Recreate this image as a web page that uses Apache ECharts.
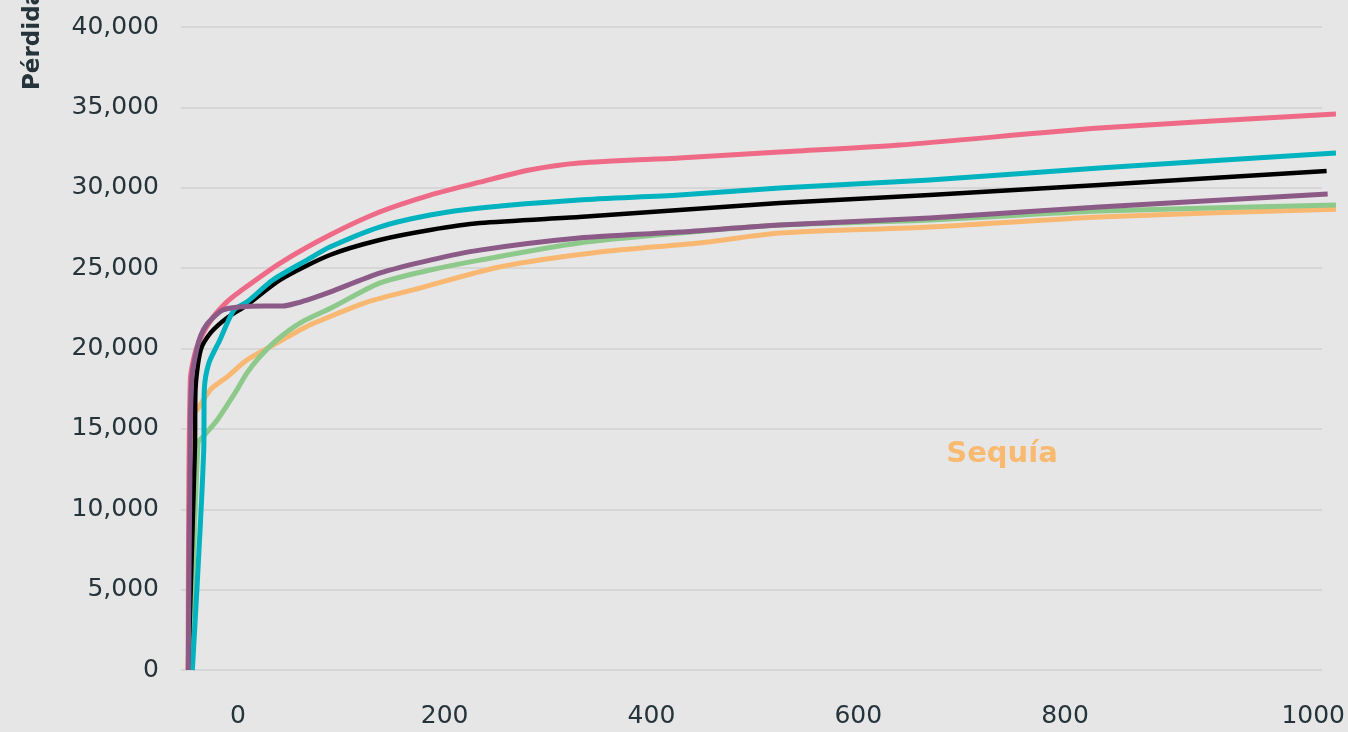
<!DOCTYPE html>
<html>
<head>
<meta charset="utf-8">
<script src="https://cdn.jsdelivr.net/npm/echarts@6/dist/echarts.min.js"></script>
<style>
html,body{margin:0;padding:0;background:#e6e6e6;}
#chart{width:1348px;height:732px;}
</style>
</head>
<body>
<div id="chart"></div>
<script>
// ---- data (x, loss) ----
const pinkData = [[-48,0],[-46,18040],[-39.6,20090],[-26,21770],[-10.6,22900],[2,23550],[41,25315],[89,27060],[137,28490],[186,29545],[234,30350],[282,31100],[330,31535],[427,31850],[524,32220],[640,32655],[833,33710],[1062,34585]];
const cyanData = [[-44,0],[-33,13700],[-32.5,17400],[-28,19100],[-17.4,20530],[-3.9,22390],[8.7,22890],[33.8,24260],[66.7,25500],[89,26310],[137,27555],[186,28300],[234,28740],[330,29235],[427,29545],[524,29980],[669,30480],[833,31225],[1062,32160]];
const blackData = [[-48,0],[-41.5,14000],[-41,17420],[-36,19900],[-26,21000],[-10.6,21900],[8.7,22700],[40.6,24260],[89,25815],[137,26750],[186,27370],[234,27800],[330,28180],[427,28610],[524,29050],[669,29545],[833,30170],[1053,31040]];
const purpleData = [[-48,0],[-46,14740],[-44.5,18225],[-39.6,20000],[-36,20800],[-30,21500],[-20,22150],[-14.5,22400],[-5,22540],[8.7,22620],[26,22640],[43.5,22640],[57,22830],[72.5,23140],[89,23510],[137,24690],[186,25500],[234,26120],[330,26870],[427,27240],[524,27680],[669,28115],[833,28800],[1054,29610]];
const greenData = [[-46,0],[-38.6,14120],[-34,14490],[-20,15550],[-1,17420],[8.7,18470],[21,19470],[37.7,20530],[60,21580],[92,22580],[137,24070],[186,24880],[234,25500],[330,26560],[427,27180],[524,27680],[669,27990],[833,28550],[1062,28920]];
const orangeData = [[-48,0],[-43,16000],[-39.6,16170],[-29,17230],[-24,17600],[-10.6,18225],[8.7,19280],[31,20100],[60,21150],[72.5,21550],[125,22890],[176,23760],[253,25070],[350,26000],[446,26560],[524,27180],[669,27555],[833,28180],[1062,28670]];

const xTickValues = [0,200,400,600,800,1040];
const xTickLabels = ['0','200','400','600','800','1000'];
const yAxisTitle = 'Pérdida';
const annotation = 'Sequía';

const FONT = 'DejaVu Sans';
const TXT = '#25333a';
const BG = '#e6e6e6';

function line(name, data, color, width, z) {
  return {
    name, type: 'line', data, z,
    showSymbol: false, symbol: 'none',
    smooth: 0.25,
    clip: false,
    lineStyle: { color, width, cap: 'butt', join: 'round' },
    emphasis: { disabled: true }
  };
}

const chart = echarts.init(document.getElementById('chart'), null, { renderer: 'canvas' });
chart.setOption({
  backgroundColor: BG,
  animation: false,
  grid: { left: 181, right: 8, top: 27, bottom: 62, containLabel: false },
  xAxis: {
    type: 'value', min: -55, max: 1064,
    axisLine: { show: false }, axisTick: { show: false },
    splitLine: { show: false },
    axisLabel: {
      customValues: xTickValues,
      formatter: v => xTickLabels[xTickValues.indexOf(v)],
      fontFamily: FONT, fontSize: 25, color: TXT, margin: 33, lineHeight: 26
    }
  },
  yAxis: {
    type: 'value', min: 0, max: 40000, interval: 5000,
    axisLine: { show: false }, axisTick: { show: false },
    splitLine: { show: true, lineStyle: { color: '#d6d6d6', width: 2 } },
    axisLabel: { fontFamily: FONT, fontSize: 25, color: TXT, margin: 22 }
  },
  graphic: [
    // the reference's gridlines stop short of the line ends
    { type: 'rect', z: 1, silent: true, shape: { x: 1322, y: 0, width: 30, height: 680 },
      style: { fill: BG } },
    { type: 'text', x: 33, y: 90, rotation: Math.PI / 2,
      style: { text: yAxisTitle, fontFamily: FONT, fontWeight: 'bold', fontSize: 23, fill: TXT,
               textAlign: 'left', textVerticalAlign: 'middle' } },
    { type: 'text', x: 1002, y: 454,
      style: { text: annotation, fontFamily: FONT, fontWeight: 'bold', fontSize: 29, fill: '#f9b96e',
               textAlign: 'center', textVerticalAlign: 'middle' } }
  ],
  series: [
    line('Sequía', orangeData, '#f9b872', 5, 2),
    line('Verde', greenData, '#8dc98a', 5, 3),
    line('Rosa', pinkData, '#ee6a86', 5, 4),
    line('Negro', blackData, '#000000', 4.5, 5),
    line('Cian', cyanData, '#00b3bf', 5, 6),
    line('Morado', purpleData, '#8b5a86', 5, 7)
  ]
});
</script>
</body>
</html>
